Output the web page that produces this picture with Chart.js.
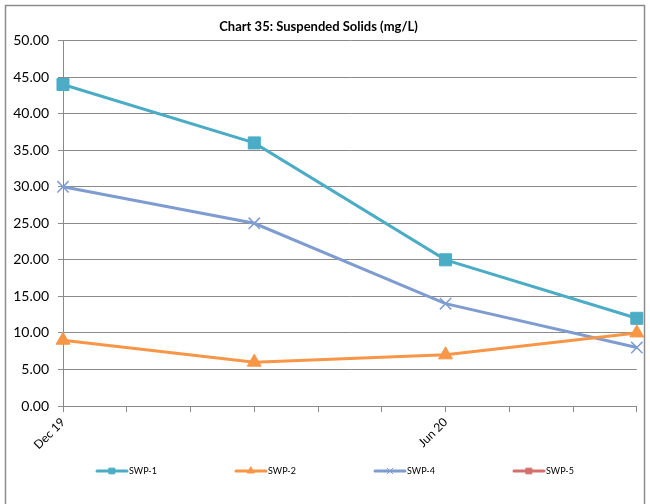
<!DOCTYPE html>
<html>
<head>
<meta charset="utf-8">
<script src="https://cdn.jsdelivr.net/npm/chart.js@4"></script>
<style>
  body { margin: 0; background: #fff; }
  #wrap { width: 650px; height: 504px; }
</style>
</head>
<body>
<div id="wrap"><canvas id="chart" width="650" height="504"></canvas></div>
<script>
// Monthly axis, samples are quarterly
const months = ['Dec 19', 'Jan 20', 'Feb 20', 'Mar 20', 'Apr 20', 'May 20', 'Jun 20', 'Jul 20', 'Aug 20', 'Sep 20'];
const shownLabels = ['Dec 19', 'Jun 20'];
const yTicks = [0, 5, 10, 15, 20, 25, 30, 35, 40, 45, 50];

const swp1 = [44, null, null, 36, null, null, 20, null, null, 12];
const swp2 = [9, null, null, 6, null, null, 7, null, null, 10];
const swp4 = [30, null, null, 25, null, null, 14, null, null, 8];
const swp5 = [null, null, null, null, null, null, null, null, null, null];

const FONT = 'Lato, "Open Sans", sans-serif';
const gridGray = '#8a8a8a';

function series(label, data, color, style, radius, lw) {
    return {
        label: label,
        data: data,
        borderColor: color,
        backgroundColor: color,
        borderWidth: 3,
        pointStyle: style,
        pointRadius: radius,
        pointHoverRadius: radius,
        pointBorderWidth: lw,
        pointBackgroundColor: color,
        pointBorderColor: color,
        spanGaps: true,
        tension: 0
    };
}

// outer frame of the chart object
const framePlugin = {
    id: 'frame',
    afterDraw(chart) {
        const ctx = chart.ctx;
        ctx.save();
        ctx.strokeStyle = '#8c8c8c';
        ctx.lineWidth = 1.5;
        ctx.strokeRect(5.5, 5.5, 639, 520);
        ctx.restore();
    }
};

// Excel-like legend: short line with a small marker, wide spacing
const legendPlugin = {
    id: 'xlLegend',
    afterDraw(chart) {
        const ctx = chart.ctx;
        const sets = chart.data.datasets;
        const stride = 139, lineW = 30, y = 471;
        const startX = 97;
        ctx.save();
        ctx.font = '9px ' + FONT;
        ctx.textBaseline = 'middle';
        ctx.fillStyle = '#000';
        sets.forEach((ds, i) => {
            const x = startX + i * stride;
            ctx.strokeStyle = ds.borderColor;
            ctx.lineWidth = 3;
            ctx.lineCap = 'round';
            ctx.beginPath();
            ctx.moveTo(x, y);
            ctx.lineTo(x + lineW, y);
            ctx.stroke();
            ctx.fillStyle = ds.pointBackgroundColor;
            ctx.strokeStyle = ds.pointBorderColor;
            ctx.lineWidth = 1;
            Chart.helpers.drawPoint(ctx, { pointStyle: ds.pointStyle, radius: 4, rotation: 0, borderWidth: 1 }, x + lineW / 2, y);
            ctx.fillStyle = '#000';
            ctx.fillText(ds.label, x + lineW + 2, y + 0.5);
        });
        ctx.restore();
    }
};

new Chart(document.getElementById('chart').getContext('2d'), {
    type: 'line',
    data: {
        labels: months,
        datasets: [
            series('SWP-1', swp1, '#4BACC6', 'rect', 8.5, 1),
            series('SWP-2', swp2, '#F79646', 'triangle', 8, 1),
            series('SWP-4', swp4, '#7F9CD0', 'crossRot', 8, 1.5),
            series('SWP-5', swp5, '#D3706D', 'rect', 6, 1)
        ]
    },
    options: {
        responsive: false,
        animation: false,
        layout: { padding: { left: 0, right: 13, top: 0, bottom: 0 } },
        plugins: {
            title: {
                display: true,
                text: 'Chart 35: Suspended Solids (mg/L)',
                color: '#000',
                font: { family: FONT, size: 13, weight: 'bold' },
                padding: { top: 19, bottom: 6 }
            },
            legend: { display: false },
            tooltip: { enabled: false }
        },
        scales: {
            x: {
                type: 'category',
                offset: false,
                grid: { drawOnChartArea: false, drawTicks: true, tickLength: 6, color: gridGray },
                border: { color: gridGray, width: 1 },
                ticks: {
                    autoSkip: false,
                    maxRotation: 45,
                    minRotation: 45,
                    color: '#000',
                    font: { family: FONT, size: 12 },
                    callback: function (value) {
                        const lab = this.getLabelForValue(value);
                        return shownLabels.includes(lab) ? lab : '';
                    }
                },
                afterFit(scale) { scale.height = 98; }
            },
            y: {
                min: 0,
                max: 50,
                afterBuildTicks(scale) { scale.ticks = yTicks.map(v => ({ value: v })); },
                grid: { color: gridGray, tickLength: 5 },
                border: { color: gridGray, width: 1 },
                ticks: {
                    color: '#000',
                    padding: 9,
                    font: { family: FONT, size: 14 },
                    callback: v => v.toFixed(2)
                },
                afterFit(scale) { scale.width = 63; }
            }
        }
    },
    plugins: [framePlugin, legendPlugin]
});
</script>
</body>
</html>
